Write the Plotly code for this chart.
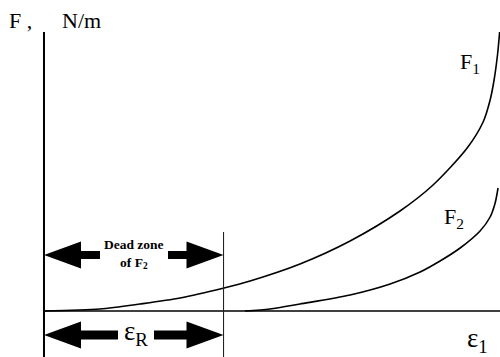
import plotly.graph_objects as go

# ---------------- data ----------------
eps_R = 1.0  # end of the dead zone of F2 (strain units)

eps_F1 = [0.0, 0.312, 0.535, 0.758, 1.003, 1.148, 1.426, 1.705, 1.983,
          2.167, 2.357, 2.446, 2.485, 2.507, 2.526, 2.538]
F1 = [0.0, 0.02, 0.07, 0.13, 0.23, 0.30, 0.47, 0.70, 1.00,
      1.26, 1.63, 1.89, 2.11, 2.31, 2.56, 2.79]

eps_F2 = [1.120, 1.259, 1.426, 1.705, 1.928, 2.095, 2.206, 2.318, 2.429, 2.485, 2.513, 2.529]
F2 = [0.0, 0.02, 0.07, 0.16, 0.27, 0.39, 0.50, 0.63, 0.80, 0.94, 1.08, 1.23]

# ---------------- scales ----------------
X_RANGE = [-0.245, 2.540]
Y_RANGE = [-0.46, 3.11]
W, H = 500, 357
ux = W / (X_RANGE[1] - X_RANGE[0])   # px per x unit
uy = H / (Y_RANGE[1] - Y_RANGE[0])   # px per y unit

def dx(px):
    return px / ux

def dy(px):
    return px / uy

fig = go.Figure()

fig.add_trace(go.Scatter(x=eps_F1, y=F1, mode="lines",
                         line=dict(color="black", width=1.6, shape="spline", smoothing=0.8),
                         hoverinfo="skip", showlegend=False))
fig.add_trace(go.Scatter(x=eps_F2, y=F2, mode="lines",
                         line=dict(color="black", width=1.6, shape="spline", smoothing=0.8),
                         hoverinfo="skip", showlegend=False))

shapes = []
# axes
shapes.append(dict(type="line", xref="x", yref="y", x0=0, x1=0,
                   y0=Y_RANGE[0], y1=dy(311 - 32), line=dict(color="black", width=2)))
shapes.append(dict(type="line", xref="x", yref="y", x0=0, x1=X_RANGE[1],
                   y0=0, y1=0, line=dict(color="black", width=1.6)))
# dead-zone boundary
shapes.append(dict(type="line", xref="x", yref="y", x0=eps_R, x1=eps_R,
                   y0=Y_RANGE[0], y1=dy(311 - 232), line=dict(color="#222", width=1.1)))


def double_arrow(yc, head_len_px, head_h_px, shaft_h_px, gap_left_px, gap_right_px):
    hl = dx(head_len_px)
    hh = dy(head_h_px) / 2
    sh = dy(shaft_h_px) / 2
    out = []
    # left head
    out.append(dict(type="path", xref="x", yref="y",
                    path=f"M 0,{yc} L {hl},{yc+hh} L {hl},{yc-hh} Z",
                    fillcolor="black", line=dict(color="black", width=0)))
    # right head
    out.append(dict(type="path", xref="x", yref="y",
                    path=f"M {eps_R},{yc} L {eps_R-hl},{yc+hh} L {eps_R-hl},{yc-hh} Z",
                    fillcolor="black", line=dict(color="black", width=0)))
    # shafts
    out.append(dict(type="rect", xref="x", yref="y", x0=hl - dx(1), x1=dx(gap_left_px),
                    y0=yc - sh, y1=yc + sh, fillcolor="black", line=dict(width=0)))
    out.append(dict(type="rect", xref="x", yref="y", x0=dx(gap_right_px), x1=eps_R - hl + dx(1),
                    y0=yc - sh, y1=yc + sh, fillcolor="black", line=dict(width=0)))
    return out

shapes += double_arrow(dy(311 - 255), 37, 27, 8, 100 - 44, 168 - 44)
shapes += double_arrow(dy(311 - 335), 37, 27, 9, 118 - 44, 154 - 44)

serif = "Liberation Serif, Times New Roman, serif"
annotations = [
    dict(x=dx(7 - 44), y=dy(311 - 20), xref="x", yref="y", text="F ,",
         showarrow=False, xanchor="left", yanchor="middle",
         font=dict(family=serif, size=22, color="black")),
    dict(x=dx(60 - 44), y=dy(311 - 20), xref="x", yref="y", text="N/m",
         showarrow=False, xanchor="left", yanchor="middle",
         font=dict(family=serif, size=22, color="black")),
    dict(x=dx(470 - 44), y=dy(311 - 63), xref="x", yref="y", text="F<sub>1</sub>",
         showarrow=False, xanchor="center", yanchor="middle",
         font=dict(family=serif, size=22, color="black")),
    dict(x=dx(454 - 44), y=dy(311 - 218), xref="x", yref="y", text="F<sub>2</sub>",
         showarrow=False, xanchor="center", yanchor="middle",
         font=dict(family=serif, size=22, color="black")),
    dict(x=dx(478 - 44), y=dy(311 - 340), xref="x", yref="y", text="ε<sub>1</sub>",
         showarrow=False, xanchor="center", yanchor="middle",
         font=dict(family=serif, size=27, color="black")),
    dict(x=dx(136 - 44), y=dy(311 - 333), xref="x", yref="y", text="ε<sub>R</sub>",
         showarrow=False, xanchor="center", yanchor="middle",
         font=dict(family=serif, size=27, color="black")),
    dict(x=dx(134 - 44), y=dy(311 - 254), xref="x", yref="y",
         text="<b>Dead zone</b><br><b>of F<sub>2</sub></b>",
         showarrow=False, xanchor="center", yanchor="middle",
         font=dict(family=serif, size=13.5, color="black")),
]

fig.update_layout(
    width=W, height=H,
    margin=dict(l=0, r=0, t=0, b=0),
    paper_bgcolor="white", plot_bgcolor="white",
    xaxis=dict(range=X_RANGE, visible=False, fixedrange=True),
    yaxis=dict(range=Y_RANGE, visible=False, fixedrange=True),
    shapes=shapes, annotations=annotations, showlegend=False,
)

fig.write_html("out.html")
